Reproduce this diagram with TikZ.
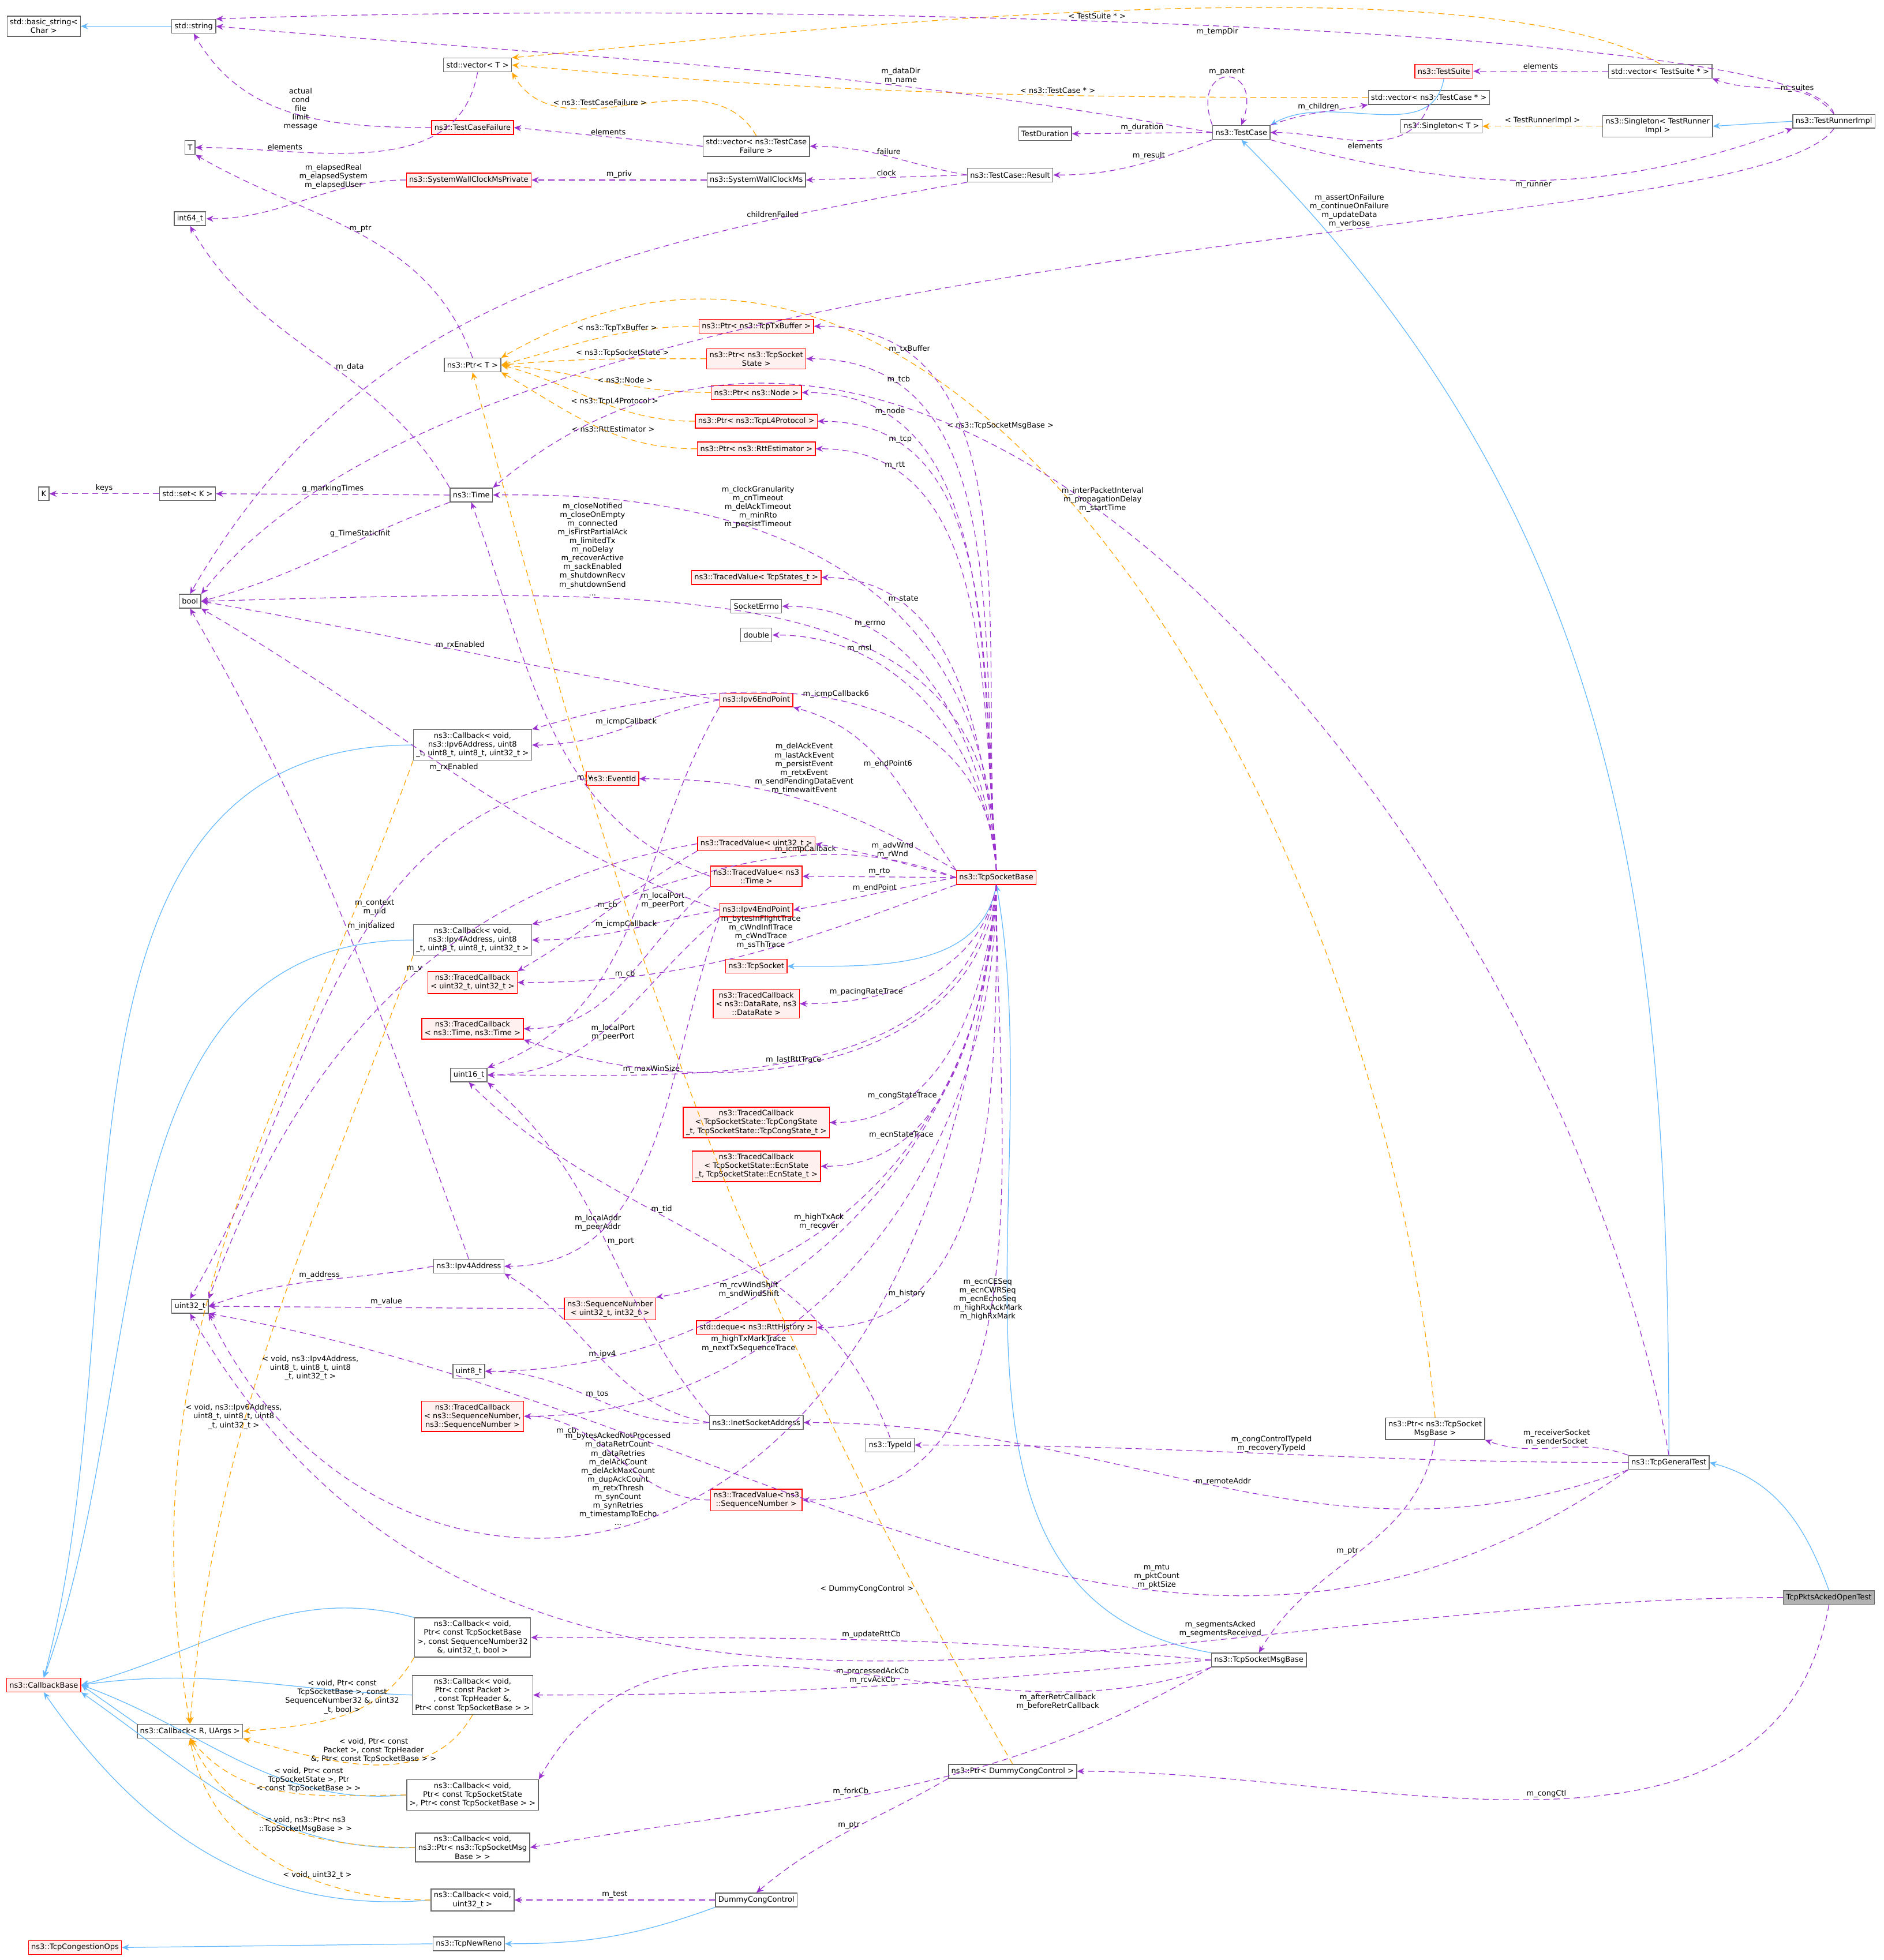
\documentclass[tikz,border=0pt]{standalone}
\usepackage{fontspec}
\setmainfont{DejaVu Sans}
\usetikzlibrary{arrows.meta,positioning}
\definecolor{mpurple}{HTML}{9A32CD}
\definecolor{morange}{HTML}{FFA500}
\definecolor{mblue}{HTML}{63B8FF}
\definecolor{redfill}{HTML}{FFF0F0}
\tikzset{
  cls/.style={draw=black!60, fill=white, font=\fontsize{3.7}{4.3}\selectfont, inner sep=1.4pt, minimum height=6.8pt, align=center},
  redcls/.style={cls, draw=red, fill=redfill},
  focus/.style={cls, fill=black!30},
  lbl/.style={font=\fontsize{3.7}{4.3}\selectfont, text=black, align=center, inner sep=0.8pt},
  member/.style={densely dashed, draw=mpurple, line width=0.35pt, -{Stealth[length=3.5pt,width=3pt]}},
  tmpl/.style={densely dashed, draw=morange, line width=0.35pt, -{Stealth[length=3.5pt,width=3pt]}},
  inherit/.style={draw=mblue, line width=0.35pt, -{Stealth[length=3.5pt,width=3pt]}},
}
\begin{document}
\begin{tikzpicture}[x=0.02166cm,y=-0.02166cm]
  \useasboundingbox (0,0) rectangle (1507,1568);

  % left column
  \node[cls] (bstr) at (35,21) {std::basic\_string<\\Char >};
  \node[cls] (str) at (155,21) {std::string};
  \node[cls] (T) at (152,118) {T};
  \node[cls] (i64) at (152,175) {int64\_t};
  \node[cls] (K) at (35,395) {K};
  \node[cls] (setK) at (150,395) {std::set< K >};
  \node[cls] (bool) at (152,481) {bool};
  \node[cls] (u32) at (152,1045) {uint32\_t};
  \node[redcls] (cbb) at (35,1348) {ns3::CallbackBase};
  \node[redcls] (cong) at (60,1558) {ns3::TcpCongestionOps};

  % second column
  \node[cls] (vecT) at (382,52) {std::vector< T >};
  \node[redcls] (tcf) at (378,102) {ns3::TestCaseFailure};
  \node[redcls] (swcp) at (375,144) {ns3::SystemWallClockMsPrivate};
  \node[cls] (ptrT) at (378,292) {ns3::Ptr< T >};
  \node[cls] (time) at (377,396) {ns3::Time};
  \node[cls] (cb6) at (378,596) {ns3::Callback< void,\\ns3::Ipv6Address, uint8\\\_t, uint8\_t, uint8\_t, uint32\_t >};
  \node[cls] (cb4) at (378,752) {ns3::Callback< void,\\ns3::Ipv4Address, uint8\\\_t, uint8\_t, uint8\_t, uint32\_t >};
  \node[redcls] (tcu) at (378,786) {ns3::TracedCallback\\< uint32\_t, uint32\_t >};
  \node[redcls] (tct) at (378,823) {ns3::TracedCallback\\< ns3::Time, ns3::Time >};
  \node[cls] (u16) at (375,860) {uint16\_t};
  \node[cls] (ip4) at (375,1013) {ns3::Ipv4Address};
  \node[cls] (u8) at (375,1097) {uint8\_t};
  \node[redcls] (tcs) at (378,1133) {ns3::TracedCallback\\< ns3::SequenceNumber,\\ns3::SequenceNumber >};
  \node[cls] (cbupd) at (378,1310) {ns3::Callback< void,\\Ptr< const TcpSocketBase\\>, const SequenceNumber32\\\&, uint32\_t, bool >};
  \node[cls] (cbpkt) at (378,1356) {ns3::Callback< void,\\Ptr< const Packet >\\, const TcpHeader \&,\\Ptr< const TcpSocketBase > >};
  \node[cls] (cbR) at (152,1385) {ns3::Callback< R, UArgs >};
  \node[cls] (cbst) at (378,1436) {ns3::Callback< void,\\Ptr< const TcpSocketState\\>, Ptr< const TcpSocketBase > >};
  \node[cls] (cbmsg) at (378,1478) {ns3::Callback< void,\\ns3::Ptr< ns3::TcpSocketMsg\\Base > >};
  \node[cls] (cbu) at (378,1520) {ns3::Callback< void,\\uint32\_t >};
  \node[cls] (reno) at (375,1555) {ns3::TcpNewReno};

  % third column
  \node[cls] (vtcf) at (605,117) {std::vector< ns3::TestCase\\Failure >};
  \node[cls] (swc) at (605,144) {ns3::SystemWallClockMs};
  \node[redcls] (ptx) at (605,261) {ns3::Ptr< ns3::TcpTxBuffer >};
  \node[redcls] (pst) at (605,287) {ns3::Ptr< ns3::TcpSocket\\State >};
  \node[redcls] (pnode) at (605,314) {ns3::Ptr< ns3::Node >};
  \node[redcls] (pl4) at (605,337) {ns3::Ptr< ns3::TcpL4Protocol >};
  \node[redcls] (prtt) at (605,359) {ns3::Ptr< ns3::RttEstimator >};
  \node[redcls] (tvst) at (605,462) {ns3::TracedValue< TcpStates\_t >};
  \node[cls] (errno) at (605,485) {SocketErrno};
  \node[cls] (dbl) at (605,508) {double};
  \node[redcls] (ep6) at (605,560) {ns3::Ipv6EndPoint};
  \node[redcls] (evt) at (490,623) {ns3::EventId};
  \node[redcls] (tvu) at (605,675) {ns3::TracedValue< uint32\_t >};
  \node[redcls] (tvt) at (605,701) {ns3::TracedValue< ns3\\::Time >};
  \node[redcls] (ep4) at (605,728) {ns3::Ipv4EndPoint};
  \node[redcls] (tsock) at (605,773) {ns3::TcpSocket};
  \node[redcls] (tcdr) at (605,803) {ns3::TracedCallback\\< ns3::DataRate, ns3\\::DataRate >};
  \node[redcls] (tccs) at (605,898) {ns3::TracedCallback\\< TcpSocketState::TcpCongState\\\_t, TcpSocketState::TcpCongState\_t >};
  \node[redcls] (tcecn) at (605,933) {ns3::TracedCallback\\< TcpSocketState::EcnState\\\_t, TcpSocketState::EcnState\_t >};
  \node[redcls] (seq) at (488,1047) {ns3::SequenceNumber\\< uint32\_t, int32\_t >};
  \node[redcls] (rtth) at (605,1062) {std::deque< ns3::RttHistory >};
  \node[cls] (inet) at (605,1138) {ns3::InetSocketAddress};
  \node[redcls] (tvs) at (605,1200) {ns3::TracedValue< ns3\\::SequenceNumber >};
  \node[cls] (tid) at (712,1156) {ns3::TypeId};
  \node[cls] (pdcc) at (810,1417) {ns3::Ptr< DummyCongControl >};
  \node[cls] (dcc) at (605,1520) {DummyCongControl};
  \node[redcls] (tsb) at (797,702) {ns3::TcpSocketBase};
  \node[cls] (msg) at (1007,1328) {ns3::TcpSocketMsgBase};

  % right part
  \node[redcls] (suite) at (1155,57) {ns3::TestSuite};
  \node[cls] (vsuite) at (1328,57) {std::vector< TestSuite * >};
  \node[cls] (vcase) at (1143,78) {std::vector< ns3::TestCase * >};
  \node[cls] (tdur) at (836,107) {TestDuration};
  \node[cls] (tcase) at (993,106) {ns3::TestCase};
  \node[cls] (res) at (808,140) {ns3::TestCase::Result};
  \node[cls] (sgT) at (1153,101) {ns3::Singleton< T >};
  \node[cls] (sgR) at (1326,101) {ns3::Singleton< TestRunner\\Impl >};
  \node[cls] (runner) at (1467,97) {ns3::TestRunnerImpl};
  \node[cls] (pmsg) at (1148,1143) {ns3::Ptr< ns3::TcpSocket\\MsgBase >};
  \node[cls] (gen) at (1335,1170) {ns3::TcpGeneralTest};
  \node[focus] (open) at (1463,1278) {TcpPktsAckedOpenTest};

  % inheritance
  \draw[inherit] (str.west) -- (bstr.east);
  \draw[inherit] (cb6.west) to[out=180,in=75] (cbb.north);
  \draw[inherit] (cb4.west) to[out=180,in=70] (cbb.north);
  \draw[inherit] (cbupd.north west) to[out=165,in=15] (cbb.east);
  \draw[inherit] (cbpkt.west) to[out=178,in=8] (cbb.east);
  \draw[inherit] (cbR.north west) -- (cbb.east);
  \draw[inherit] (cbst.west) to[out=185,in=-20] (cbb.east);
  \draw[inherit] (cbmsg.west) to[out=182,in=-35] (cbb.south east);
  \draw[inherit] (cbu.west) to[out=185,in=-55] (cbb.south);
  \draw[inherit] (reno.west) -- (cong.east);
  \draw[inherit] (dcc.south west) to[out=200,in=0] (reno.east);
  \draw[inherit] (tsb.south) to[out=-100,in=0] (tsock.east);
  \draw[inherit] (msg.north west) to[out=170,in=-80] (tsb.south);
  \draw[inherit] (gen.north) to[out=90,in=-45] (tcase.south);
  \draw[inherit] (open.north) to[out=110,in=-15] (gen.east);
  \draw[inherit] (suite.south) to[out=-100,in=30] (tcase.north east);
  \draw[inherit] (runner.west) -- (sgR.east);

  % template instances
  \draw[tmpl] (vtcf.north) to[out=120,in=-60] node[lbl,pos=0.45,left]{< ns3::TestCaseFailure >} (vecT.south east);
  \draw[tmpl] (vcase.west) to[out=180,in=-5] node[lbl,pos=0.35,above]{< ns3::TestCase * >} (vecT.east);
  \draw[tmpl] (vsuite.north) to[out=150,in=5,looseness=0.5] node[lbl,pos=0.5,below]{< TestSuite * >} (vecT.north east);
  \draw[tmpl] (ptx.west) to[out=180,in=15] node[lbl,pos=0.4,above]{< ns3::TcpTxBuffer >} (ptrT.east);
  \draw[tmpl] (pst.west) to[out=180,in=5] node[lbl,pos=0.4,above]{< ns3::TcpSocketState >} (ptrT.east);
  \draw[tmpl] (pnode.west) to[out=180,in=-5] node[lbl,pos=0.4,above]{< ns3::Node >} (ptrT.east);
  \draw[tmpl] (pl4.west) to[out=180,in=-15] node[lbl,pos=0.4,above]{< ns3::TcpL4Protocol >} (ptrT.east);
  \draw[tmpl] (prtt.west) to[out=180,in=-30] node[lbl,pos=0.4,above]{< ns3::RttEstimator >} (ptrT.south east);
  \draw[tmpl] (pmsg.north) to[out=95,in=30] node[lbl,pos=0.62,above]{< ns3::TcpSocketMsgBase >} (ptrT.north east);
  \draw[tmpl] (pdcc.north) to[out=120,in=-75] node[lbl,pos=0.12,left]{< DummyCongControl >} (ptrT.south);
  \draw[tmpl] (sgR.west) -- node[lbl,above]{< TestRunnerImpl >} (sgT.east);
  \draw[tmpl] (cb6.south west) to[out=-110,in=100] node[lbl,pos=0.7,right]{< void, ns3::Ipv6Address,\\uint8\_t, uint8\_t, uint8\\\_t, uint32\_t >} (cbR.north);
  \draw[tmpl] (cb4.south west) to[out=-110,in=85] node[lbl,pos=0.55,right]{< void, ns3::Ipv4Address,\\uint8\_t, uint8\_t, uint8\\\_t, uint32\_t >} (cbR.north);
  \draw[tmpl] (cbupd.south west) to[out=-120,in=5] node[lbl,pos=0.5,above]{< void, Ptr< const\\TcpSocketBase >, const\\SequenceNumber32 \&, uint32\\\_t, bool >} (cbR.east);
  \draw[tmpl] (cbpkt.south) to[out=-120,in=-15] node[lbl,pos=0.5,above]{< void, Ptr< const\\Packet >, const TcpHeader\\\&, Ptr< const TcpSocketBase > >} (cbR.south east);
  \draw[tmpl] (cbst.west) to[out=180,in=-50] node[lbl,pos=0.4,above]{< void, Ptr< const\\TcpSocketState >, Ptr\\< const TcpSocketBase > >} (cbR.south);
  \draw[tmpl] (cbmsg.west) to[out=180,in=-65] node[lbl,pos=0.4,above]{< void, ns3::Ptr< ns3\\::TcpSocketMsgBase > >} (cbR.south);
  \draw[tmpl] (cbu.west) to[out=180,in=-80] node[lbl,pos=0.35,above]{< void, uint32\_t >} (cbR.south);

  % members of the test framework
  \draw[member] (runner.north) .. controls (1450,20) and (600,0) .. node[lbl,pos=0.5,below]{m\_tempDir} (str.north east);
  \draw[member] (tcase.west) to[out=170,in=-5] node[lbl,pos=0.3,above]{m\_dataDir\\m\_name} (str.east);
  \draw[member] (tcf.west) to[out=180,in=-60] node[lbl,pos=0.55,right]{actual\\cond\\file\\limit\\message} (str.south);
  \draw[member] (vecT.south) to[out=-100,in=0] node[lbl,pos=0.75,above]{elements} (T.east);
  \draw[member] (vtcf.west) -- node[lbl,above]{elements} (tcf.east);
  \draw[member] (swcp.west) to[out=180,in=0] node[lbl,pos=0.35,above]{m\_elapsedReal\\m\_elapsedSystem\\m\_elapsedUser} (i64.east);
  \draw[member] (swc.west) -- node[lbl,above]{m\_priv} (swcp.east);
  \draw[member] (res.west) to[out=170,in=0] node[lbl,pos=0.5,above]{failure} (vtcf.east);
  \draw[member] (res.west) -- node[lbl,above]{clock} (swc.east);
  \draw[member] (res.south west) to[out=190,in=60] node[lbl,pos=0.2,above]{childrenFailed} (bool.north);
  \draw[member] (tcase.south west) to[out=200,in=0] node[lbl,pos=0.4,above]{m\_result} (res.east);
  \draw[member] (tcase.west) -- node[lbl,above]{m\_duration} (tdur.east);
  \draw[member] (tcase.north west) to[out=110,in=70,looseness=6] node[lbl,above]{m\_parent} (tcase.north);
  \draw[member] (tcase.north east) to[out=20,in=190] node[lbl,pos=0.5,above]{m\_children} (vcase.south west);
  \draw[member] (vcase.south) to[out=-110,in=0] node[lbl,pos=0.5,below]{elements} (tcase.east);
  \draw[member] (vsuite.west) -- node[lbl,above]{elements} (suite.east);
  \draw[member] (runner.north) to[out=130,in=-20] node[lbl,pos=0.5,right]{m\_suites} (vsuite.south east);
  \draw[member] (tcase.south east) to[out=-15,in=-160] node[lbl,pos=0.5,below]{m\_runner} (runner.south west);
  \draw[member] (runner.south) .. controls (1400,200) and (400,170) .. node[lbl,pos=0.38,above]{m\_assertOnFailure\\m\_continueOnFailure\\m\_updateData\\m\_verbose} (bool.north east);
  \draw[member] (ptrT.north) to[out=110,in=-30] node[lbl,pos=0.5,above]{m\_ptr} (T.south east);
  \draw[member] (time.north west) to[out=120,in=-60] node[lbl,pos=0.45,right]{m\_data} (i64.south);
  \draw[member] (time.west) -- node[lbl,above]{g\_markingTimes} (setK.east);
  \draw[member] (setK.west) -- node[lbl,above]{keys} (K.east);
  \draw[member] (time.south west) to[out=200,in=15] node[lbl,pos=0.35,above]{g\_TimeStaticInit} (bool.east);

  % members of ns3::TcpSocketBase
  \draw[member] (tsb.north) to[out=95,in=0] node[lbl,pos=0.82,above]{m\_txBuffer} (ptx.east);
  \draw[member] (tsb.north) to[out=95,in=0] node[lbl,pos=0.82,above]{m\_tcb} (pst.east);
  \draw[member] (tsb.north) to[out=95,in=0] node[lbl,pos=0.82,above]{m\_node} (pnode.east);
  \draw[member] (tsb.north) to[out=95,in=0] node[lbl,pos=0.82,above]{m\_tcp} (pl4.east);
  \draw[member] (tsb.north) to[out=95,in=0] node[lbl,pos=0.82,above]{m\_rtt} (prtt.east);
  \draw[member] (tsb.north) .. controls (790,400) and (500,395) .. node[lbl,pos=0.55,above]{m\_clockGranularity\\m\_cnTimeout\\m\_delAckTimeout\\m\_minRto\\m\_persistTimeout} (time.east);
  \draw[member] (tsb.north) .. controls (795,460) and (560,470) .. node[lbl,pos=0.7,above]{m\_closeNotified\\m\_closeOnEmpty\\m\_connected\\m\_isFirstPartialAck\\m\_limitedTx\\m\_noDelay\\m\_recoverActive\\m\_sackEnabled\\m\_shutdownRecv\\m\_shutdownSend\\...} (bool.east);
  \draw[member] (tsb.north) to[out=95,in=0] node[lbl,pos=0.75,above]{m\_state} (tvst.east);
  \draw[member] (tsb.north) to[out=95,in=0] node[lbl,pos=0.75,above]{m\_errno} (errno.east);
  \draw[member] (tsb.north) to[out=95,in=0] node[lbl,pos=0.75,above]{m\_msl} (dbl.east);
  \draw[member] (tsb.north) .. controls (790,560) and (640,520) .. node[lbl,pos=0.55,above]{m\_icmpCallback6} (cb6.north east);
  \draw[member] (tsb.north west) to[out=125,in=-15] node[lbl,pos=0.5,above]{m\_endPoint6} (ep6.south east);
  \draw[member] (tsb.north west) to[out=150,in=0] node[lbl,pos=0.5,above=2pt]{m\_delAckEvent\\m\_lastAckEvent\\m\_persistEvent\\m\_retxEvent\\m\_sendPendingDataEvent\\m\_timewaitEvent} (evt.east);
  \draw[member] (tsb.west) to[out=160,in=15] node[lbl,pos=0.35,above]{m\_icmpCallback} (cb4.north east);
  \draw[member] (tsb.west) to[out=165,in=-10] node[lbl,pos=0.45,above]{m\_advWnd\\m\_rWnd} (tvu.east);
  \draw[member] (tsb.west) -- node[lbl,above]{m\_rto} (tvt.east);
  \draw[member] (tsb.west) to[out=190,in=10] node[lbl,pos=0.5,above]{m\_endPoint} (ep4.east);
  \draw[member] (tsb.south west) to[out=200,in=0] node[lbl,pos=0.45,above]{m\_bytesInFlightTrace\\m\_cWndInflTrace\\m\_cWndTrace\\m\_ssThTrace} (tcu.east);
  \draw[member] (tsb.south) to[out=-100,in=0] node[lbl,pos=0.75,above]{m\_pacingRateTrace} (tcdr.east);
  \draw[member] (tsb.south) to[out=-100,in=0] node[lbl,pos=0.75,above]{m\_maxWinSize} (u16.east);
  \draw[member] (tsb.south) to[out=-95,in=0] node[lbl,pos=0.75,above]{m\_congStateTrace} (tccs.east);
  \draw[member] (tsb.south) to[out=-95,in=0] node[lbl,pos=0.75,above]{m\_ecnStateTrace} (tcecn.east);
  \draw[member] (tsb.south) to[out=-95,in=-20] node[lbl,pos=0.55,above]{m\_lastRttTrace} (tct.south east);
  \draw[member] (tsb.south) to[out=-92,in=10] node[lbl,pos=0.7,above]{m\_highTxAck\\m\_recover} (seq.north east);
  \draw[member] (tsb.south) to[out=-92,in=0] node[lbl,pos=0.65,above]{m\_rcvWindShift\\m\_sndWindShift} (u8.east);
  \draw[member] (tsb.south) to[out=-90,in=0] node[lbl,pos=0.8,above]{m\_history} (rtth.east);
  \draw[member] (tsb.south) to[out=-90,in=0] node[lbl,pos=0.7,above]{m\_highTxMarkTrace\\m\_nextTxSequenceTrace} (tcs.east);
  \draw[member] (tsb.south) to[out=-90,in=0] node[lbl,pos=0.55,above]{m\_ecnCESeq\\m\_ecnCWRSeq\\m\_ecnEchoSeq\\m\_highRxAckMark\\m\_highRxMark} (tvs.east);
  \draw[member] (tsb.south) .. controls (740,1330) and (300,1330) .. node[lbl,pos=0.52,above]{m\_bytesAckedNotProcessed\\m\_dataRetrCount\\m\_dataRetries\\m\_delAckCount\\m\_delAckMaxCount\\m\_dupAckCount\\m\_retxThresh\\m\_synCount\\m\_synRetries\\m\_timestampToEcho\\...} (u32.south east);

  % members of end points, traced values and addresses
  \draw[member] (ep6.west) to[out=170,in=-10] node[lbl,pos=0.5,above]{m\_rxEnabled} (bool.east);
  \draw[member] (ep6.west) to[out=190,in=0] node[lbl,pos=0.5,above]{m\_icmpCallback} (cb6.east);
  \draw[member] (ep6.south west) to[out=-120,in=20] node[lbl,pos=0.45,right]{m\_localPort\\m\_peerPort} (u16.north east);
  \draw[member] (ep4.west) to[out=160,in=-30] node[lbl,pos=0.5,above]{m\_rxEnabled} (bool.south east);
  \draw[member] (ep4.west) to[out=190,in=0] node[lbl,pos=0.5,above]{m\_icmpCallback} (cb4.east);
  \draw[member] (ep4.south west) to[out=-140,in=0] node[lbl,pos=0.5,below]{m\_localPort\\m\_peerPort} (u16.east);
  \draw[member] (ep4.south west) to[out=-110,in=0] node[lbl,pos=0.75,above]{m\_localAddr\\m\_peerAddr} (ip4.east);
  \draw[member] (evt.west) to[out=190,in=60] node[lbl,pos=0.4,above]{m\_context\\m\_uid} (u32.north);
  \draw[member] (tvu.west) to[out=190,in=70] node[lbl,pos=0.45,above]{m\_v} (u32.north east);
  \draw[member] (tvu.south west) to[out=-150,in=30] node[lbl,pos=0.5,above]{m\_cb} (tcu.north east);
  \draw[member] (tvt.west) to[out=160,in=-70] node[lbl,pos=0.35,above]{m\_v} (time.south);
  \draw[member] (tvt.south west) to[out=-140,in=0] node[lbl,pos=0.5,above]{m\_cb} (tct.east);
  \draw[member] (ip4.west) to[out=190,in=20] node[lbl,pos=0.5,above]{m\_address} (u32.east);
  \draw[member] (ip4.north) to[out=110,in=-60] node[lbl,pos=0.5,right]{m\_initialized} (bool.south);
  \draw[member] (seq.west) -- node[lbl,above]{m\_value} (u32.east);
  \draw[member] (tvs.west) to[out=180,in=0] node[lbl,pos=0.8,below]{m\_cb} (tcs.east);
  \draw[member] (inet.north west) to[out=130,in=-40] node[lbl,pos=0.5,right]{m\_port} (u16.south east);
  \draw[member] (inet.west) to[out=170,in=-30] node[lbl,pos=0.5,above]{m\_ipv4} (ip4.south east);
  \draw[member] (inet.west) to[out=185,in=0] node[lbl,pos=0.5,above]{m\_tos} (u8.east);
  \draw[member] (tid.north) to[out=110,in=-45] node[lbl,pos=0.6,above]{m\_tid} (u16.south);

  % members of the tests
  \draw[member] (gen.north west) to[out=160,in=-20] node[lbl,pos=0.5,above]{m\_receiverSocket\\m\_senderSocket} (pmsg.south east);
  \draw[member] (gen.west) to[out=180,in=0] node[lbl,pos=0.5,above]{m\_congControlTypeId\\m\_recoveryTypeId} (tid.east);
  \draw[member] (gen.south west) to[out=200,in=0] node[lbl,pos=0.5,above]{m\_remoteAddr} (inet.east);
  \draw[member] (gen.south west) to[out=215,in=-10] node[lbl,pos=0.35,above]{m\_mtu\\m\_pktCount\\m\_pktSize} (u32.south east);
  \draw[member] (gen.north) to[out=100,in=40] node[lbl,pos=0.58,above]{m\_interPacketInterval\\m\_propagationDelay\\m\_startTime} (time.north east);
  \draw[member] (open.west) to[out=180,in=-60] node[lbl,pos=0.3,above]{m\_segmentsAcked\\m\_segmentsReceived} (u32.south);
  \draw[member] (open.south) to[out=-100,in=0] node[lbl,pos=0.5,above]{m\_congCtl} (pdcc.east);
  \draw[member] (pmsg.south) to[out=-100,in=60] node[lbl,pos=0.5,left]{m\_ptr} (msg.north);
  \draw[member] (msg.west) to[out=175,in=0] node[lbl,pos=0.5,above]{m\_updateRttCb} (cbupd.east);
  \draw[member] (msg.west) to[out=185,in=0] node[lbl,pos=0.5,above]{m\_processedAckCb\\m\_rcvAckCb} (cbpkt.east);
  \draw[member] (msg.south west) to[out=200,in=60] node[lbl,pos=0.2,below]{m\_afterRetrCallback\\m\_beforeRetrCallback} (cbst.north east);
  \draw[member] (msg.south west) to[out=210,in=10] node[lbl,pos=0.55,above]{m\_forkCb} (cbmsg.east);
  \draw[member] (pdcc.south west) to[out=210,in=40] node[lbl,pos=0.5,above]{m\_ptr} (dcc.north);
  \draw[member] (dcc.west) -- node[lbl,above]{m\_test} (cbu.east);
\end{tikzpicture}
\end{document}
